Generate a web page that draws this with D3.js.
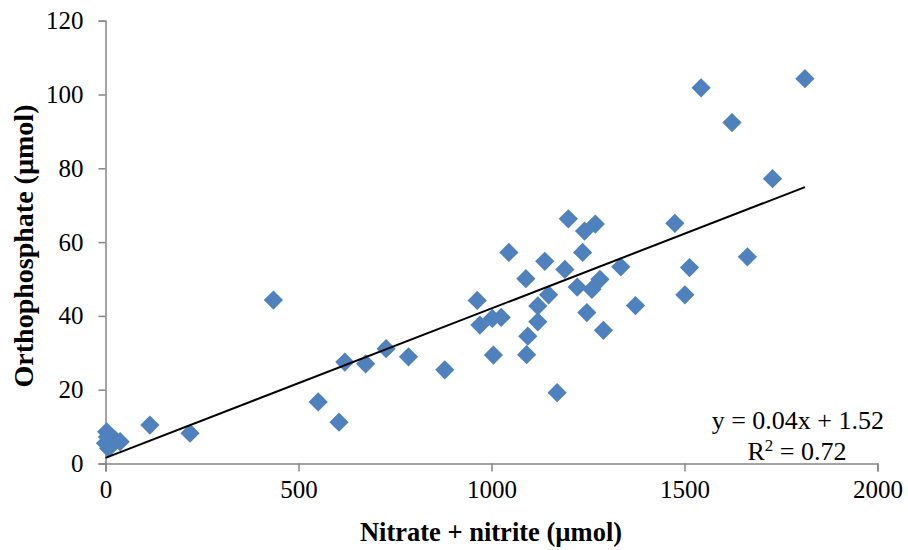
<!DOCTYPE html>
<html>
<head>
<meta charset="utf-8">
<script src="https://d3js.org/d3.v7.min.js"></script>
<style>
  body { margin: 0; background: #fff; }
</style>
</head>
<body>
<div id="body"></div>
<script>
// nitrate + nitrite (x) and orthophosphate (y)
var nitrate = [1812, 1543, 1623, 1728, 1475, 1199, 1241, 1269, 1236, 1190,
  1335, 1513, 1663, 1281, 1260, 1222, 1501, 1373, 1247, 1290,
  1045, 1138, 1089, 1148, 1120, 963, 970, 1002, 1025, 1120,
  1094, 1005, 1091, 1170, 879, 785, 727, 674, 620, 551,
  605, 435, 115, 219, 3, 0, 8, 15, 38, 5, 25];
var phosphate = [104.3, 101.8, 92.4, 77.2, 65.1, 66.3, 63.0, 64.9, 57.2, 52.6,
  53.3, 53.1, 56.0, 49.9, 47.2, 47.8, 45.7, 42.8, 40.9, 36.1,
  57.2, 54.8, 50.1, 45.7, 42.7, 44.2, 37.5, 39.3, 39.6, 38.4,
  34.5, 29.4, 29.5, 19.2, 25.4, 28.9, 31.1, 27.0, 27.5, 16.7,
  11.2, 44.3, 10.4, 8.2, 8.6, 5.5, 4.1, 6.8, 5.9, 7.2, 6.4];
var xTicks = [0, 500, 1000, 1500, 2000];
var yTicks = [0, 20, 40, 60, 80, 100, 120];
var slope = 0.0405;
var intercept = 1.52;

var width = 908;
var height = 550;

var data = nitrate.map(function (x, i) {
  return { x: x, y: phosphate[i] };
});

var svg = d3
  .select("#body")
  .append("svg")
  .attr("width", width)
  .attr("height", height);

var xScale = d3.scaleLinear().domain([0, 2000]).range([105.5, 877.5]);
var yScale = d3.scaleLinear().domain([0, 120]).range([463.5, 20.7]);

var axisColor = "#868686";
var pointColor = "#4F81BD";
var serif = "'Liberation Serif', 'Times New Roman', serif";

// AXES
var xAxis = svg.append("g")
  .attr("transform", "translate(0," + yScale(0) + ")")
  .call(d3.axisBottom(xScale).tickValues(xTicks).tickSize(8).tickPadding(9).tickFormat(d3.format("d")));

var yAxis = svg.append("g")
  .attr("transform", "translate(" + xScale(0) + ",0)")
  .call(d3.axisLeft(yScale).tickValues(yTicks).tickSize(7).tickPadding(15).tickFormat(d3.format("d")));

[xAxis, yAxis].forEach(function (ax) {
  ax.select(".domain").attr("stroke", axisColor).attr("stroke-width", 1.5);
  ax.selectAll(".tick line").attr("stroke", axisColor).attr("stroke-width", 1.5);
  ax.selectAll("text")
    .attr("fill", "#000")
    .style("font-family", serif)
    .style("font-size", "25px");
});

// POINTS
svg.append("g")
  .selectAll("path")
  .data(data)
  .enter()
  .append("path")
  .attr("d", d3.symbol().type(d3.symbolSquare).size(185))
  .attr("transform", function (d) {
    return "translate(" + xScale(d.x) + "," + yScale(d.y) + ") rotate(45)";
  })
  .attr("fill", pointColor);

// TRENDLINE
var xMax = d3.max(nitrate);
svg.append("line")
  .attr("x1", xScale(0))
  .attr("y1", yScale(intercept))
  .attr("x2", xScale(xMax))
  .attr("y2", yScale(slope * xMax + intercept))
  .attr("stroke", "#000")
  .attr("stroke-width", 2);

// EQUATION
var eq = svg.append("g")
  .style("font-family", serif)
  .style("font-size", "26px")
  .attr("fill", "#000");

eq.append("text")
  .attr("x", 884)
  .attr("y", 429)
  .attr("text-anchor", "end")
  .text("y = 0.04x + 1.52");

var r2 = eq.append("text")
  .attr("x", 797)
  .attr("y", 460)
  .attr("text-anchor", "middle");
r2.append("tspan").text("R");
r2.append("tspan")
  .attr("dy", -9)
  .style("font-size", "17px")
  .text("2");
r2.append("tspan")
  .attr("dy", 9)
  .text(" = 0.72");

// AXIS TITLES
svg.append("text")
  .attr("x", 491)
  .attr("y", 541)
  .attr("text-anchor", "middle")
  .style("font-family", serif)
  .style("font-weight", "bold")
  .style("font-size", "26.5px")
  .text("Nitrate + nitrite (µmol)");

svg.append("text")
  .attr("transform", "translate(32.5,246) rotate(-90)")
  .attr("text-anchor", "middle")
  .style("font-family", serif)
  .style("font-weight", "bold")
  .style("font-size", "28px")
  .text("Orthophosphate (µmol)");
</script>
</body>
</html>
